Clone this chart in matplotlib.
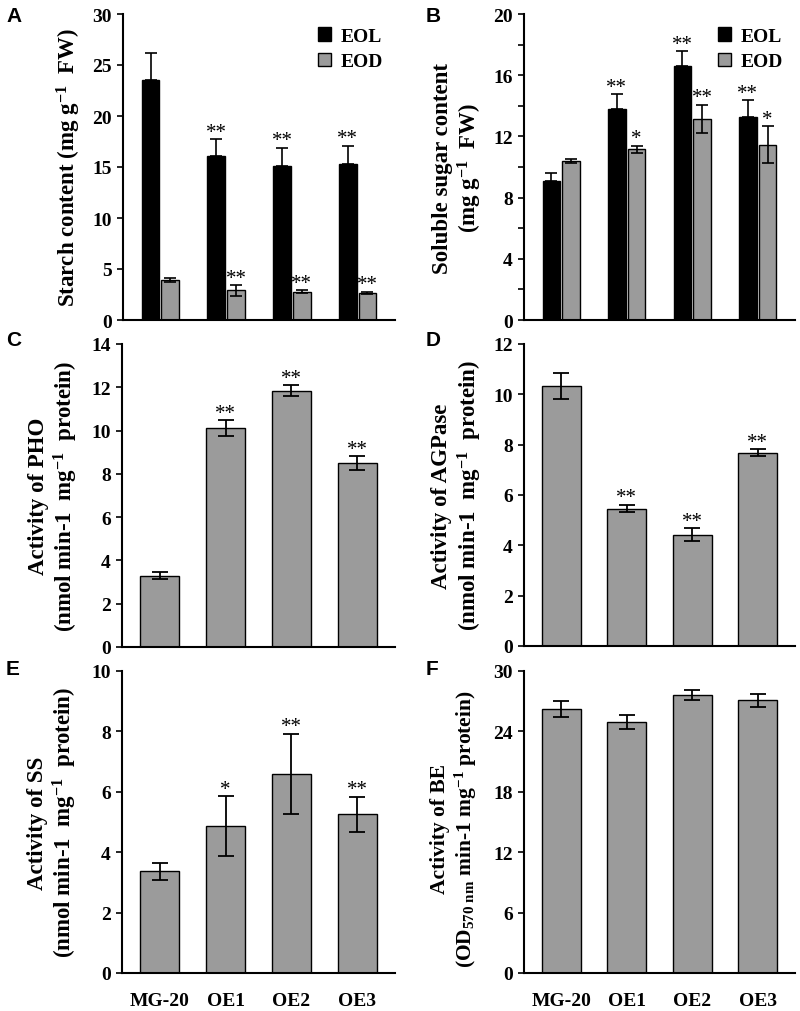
import matplotlib
matplotlib.use("Agg")
import matplotlib.pyplot as plt
from matplotlib.patches import Patch
import numpy as np

plt.rcParams['font.family'] = ['Liberation Serif', 'DejaVu Serif']
plt.rcParams['font.weight'] = 'bold'
plt.rcParams['mathtext.fontset'] = 'custom'
plt.rcParams['mathtext.rm'] = 'Liberation Serif:bold'
plt.rcParams['mathtext.bf'] = 'Liberation Serif:bold'
plt.rcParams['mathtext.it'] = 'Liberation Serif:bold'

# ---------------- data ----------------
genotypes = ["MG-20", "OE1", "OE2", "OE3"]

starch_eol = [23.5, 16.1, 15.1, 15.3]
starch_eol_err = [2.7, 1.6, 1.8, 1.8]
starch_eod = [3.9, 2.9, 2.75, 2.65]
starch_eod_err = [0.2, 0.5, 0.15, 0.1]
starch_eol_sig = ["", "**", "**", "**"]
starch_eod_sig = ["", "**", "**", "**"]

sugar_eol = [9.1, 13.8, 16.6, 13.3]
sugar_eol_err = [0.5, 0.95, 0.95, 1.05]
sugar_eod = [10.38, 11.15, 13.13, 11.47]
sugar_eod_err = [0.12, 0.25, 0.92, 1.2]
sugar_eol_sig = ["", "**", "**", "**"]
sugar_eod_sig = ["", "*", "**", "*"]

pho = [3.3, 10.1, 11.85, 8.49]
pho_err = [0.15, 0.37, 0.25, 0.33]
pho_sig = ["", "**", "**", "**"]

agpase = [10.32, 5.46, 4.43, 7.67]
agpase_err = [0.52, 0.14, 0.25, 0.14]
agpase_sig = ["", "**", "**", "**"]

ss = [3.37, 4.87, 6.6, 5.26]
ss_err = [0.28, 0.98, 1.32, 0.58]
ss_sig = ["", "*", "**", "**"]

be = [26.23, 24.97, 27.62, 27.09]
be_err = [0.83, 0.7, 0.53, 0.63]
be_sig = ["", "", "", ""]

# ---------------- style ----------------
GRAY = "#9b9b9b"
BLACK = "#000000"
TICK_FS = 14
LABEL_FS = 16.5
STAR_FS = 15
XT_FS = 14

fig = plt.figure(figsize=(8, 10.12), dpi=100)

W, H = 800.0, 1012.0
def add_ax(left, right, top, bottom):
    return fig.add_axes([left / W, 1 - bottom / H, (right - left) / W, (bottom - top) / H])

axA = add_ax(123, 395, 15, 321)
axB = add_ax(524, 795, 15, 321)
axC = add_ax(122, 395, 345, 648)
axD = add_ax(524, 795, 345, 647)
axE = add_ax(122, 395, 672, 974)
axF = add_ax(524, 795, 672, 974)

x = np.arange(len(genotypes))
XLIM = (-0.57, 3.57)

def style(ax, ymax, major, minor=None, show_x=False):
    ax.set_xlim(*XLIM)
    ax.set_ylim(0, ymax)
    ax.spines['top'].set_visible(False)
    ax.spines['right'].set_visible(False)
    for s in ('left', 'bottom'):
        ax.spines[s].set_linewidth(1.5)
    ax.set_yticks(np.arange(0, ymax + 1e-9, major))
    if minor:
        ax.set_yticks(np.arange(0, ymax + 1e-9, minor), minor=True)
        ax.tick_params(axis='y', which='minor', direction='out', length=4, width=1.2)
    ax.tick_params(axis='y', which='major', direction='out', length=4, width=1.2,
                   labelsize=TICK_FS, pad=4)
    ax.tick_params(axis='x', length=0, labelsize=XT_FS, pad=14)
    ax.set_xticks(x)
    if show_x:
        ax.set_xticklabels(genotypes, fontweight='bold')
    else:
        ax.set_xticklabels([])
    for lab in ax.get_yticklabels():
        lab.set_fontweight('bold')

def stars(ax, xs, tops, sigs, ymax):
    for xi, t, s in zip(xs, tops, sigs):
        if s:
            ax.text(xi, t - 0.008 * ymax, s, ha='center', va='bottom', fontsize=STAR_FS,
                    fontweight='normal')

def single(ax, vals, errs, sigs, ymax):
    ax.bar(x, vals, width=0.6, color=GRAY, edgecolor=BLACK, linewidth=1.0, zorder=2)
    ax.errorbar(x, vals, yerr=errs, fmt='none', ecolor=BLACK, elinewidth=1.3,
                capsize=6, capthick=1.3, zorder=3)
    stars(ax, x, np.array(vals) + np.array(errs), sigs, ymax)

def double(ax, v1, e1, v2, e2, s1, s2, ymax):
    off = 0.15
    w = 0.27
    ax.bar(x - off, v1, width=w, color=BLACK, edgecolor=BLACK, linewidth=1.0, zorder=2)
    ax.bar(x + off, v2, width=w, color=GRAY, edgecolor=BLACK, linewidth=1.0, zorder=2)
    ax.errorbar(x - off, v1, yerr=[np.zeros(4), e1], fmt='none', ecolor=BLACK,
                elinewidth=1.2, capsize=4, capthick=1.2, zorder=3)
    ax.errorbar(x + off, v2, yerr=e2, fmt='none', ecolor=BLACK,
                elinewidth=1.2, capsize=4, capthick=1.2, zorder=3)
    stars(ax, x - off, np.array(v1) + np.array(e1), s1, ymax)
    stars(ax, x + off, np.array(v2) + np.array(e2), s2, ymax)
    handles = [Patch(facecolor=BLACK, edgecolor=BLACK, label='EOL'),
               Patch(facecolor=GRAY, edgecolor=BLACK, label='EOD')]
    ax.legend(handles=handles, loc='upper right', bbox_to_anchor=(1.0, 0.995),
              frameon=False, prop={'size': 14, 'weight': 'bold'},
              handlelength=0.7, handleheight=0.7, handletextpad=0.5,
              labelspacing=0.4, borderaxespad=0.2)

def ylabel(ax, text, xpos, fs=LABEL_FS, ypos=0.5):
    ax.text(xpos, ypos, text, transform=ax.transAxes, rotation=90, ha='center',
            va='center', fontsize=fs, fontweight='bold', linespacing=1.15)

# A
double(axA, starch_eol, starch_eol_err, starch_eod, starch_eod_err,
       starch_eol_sig, starch_eod_sig, 30)
style(axA, 30, 5)
ylabel(axA, "Starch content (mg g$^{-1}$  FW)", -0.2)

# B
double(axB, sugar_eol, sugar_eol_err, sugar_eod, sugar_eod_err,
       sugar_eol_sig, sugar_eod_sig, 20)
style(axB, 20, 4, minor=2)
ylabel(axB, "Soluble sugar content\n(mg g$^{-1}$  FW)", -0.244)

# C
single(axC, pho, pho_err, pho_sig, 14)
style(axC, 14, 2)
ylabel(axC, "Activity of PHO\n(nmol min-1  mg$^{-1}$  protein)", -0.25)

# D
single(axD, agpase, agpase_err, agpase_sig, 12)
style(axD, 12, 2)
ylabel(axD, "Activity of AGPase\n(nmol min-1  mg$^{-1}$  protein)", -0.245)

# E
single(axE, ss, ss_err, ss_sig, 10)
style(axE, 10, 2, show_x=True)
ylabel(axE, "Activity of SS\n(nmol min-1  mg$^{-1}$  protein)", -0.253)

# F
single(axF, be, be_err, be_sig, 30)
style(axF, 30, 6, show_x=True)
ylabel(axF, "Activity of BE\n(OD$_{570\\ \\mathrm{nm}}$ min-1 mg$^{-1}$ protein)", -0.255,
       fs=15.5, ypos=0.48)

# panel letters
for lbl, (px, py) in zip("ABCDEF", [(6, 7), (426, 7), (6, 331), (426, 331), (6, 660), (426, 660)]):
    fig.text(px / W, 1 - py / H, lbl, ha='left', va='top', fontsize=15,
             fontweight='bold', family=['Liberation Sans', 'DejaVu Sans'])

fig.savefig("out.png", dpi=100)
